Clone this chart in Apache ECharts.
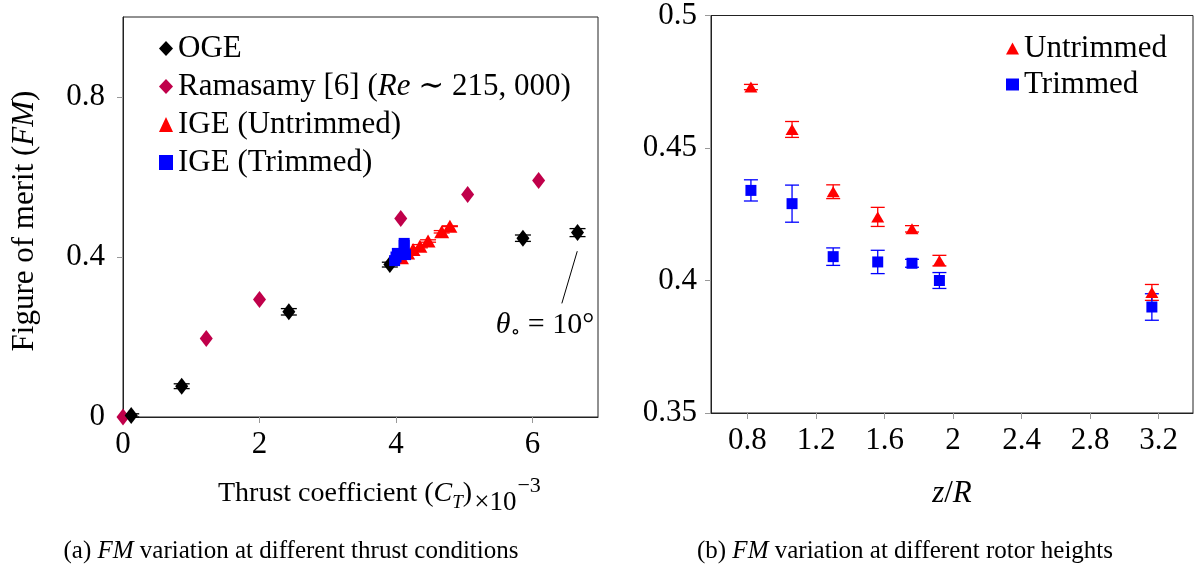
<!DOCTYPE html>
<html>
<head>
<meta charset="utf-8">
<script src="https://cdn.jsdelivr.net/npm/echarts@6/dist/echarts.min.js"></script>
<style>html,body{margin:0;padding:0;background:#fff}#c{width:1198px;height:574px}</style>
</head>
<body>
<div id="c"></div>
<script>
// ---- (a) FM vs thrust coefficient ----
const ogeCT = [0.12, 0.86, 2.43, 3.91, 5.86, 6.66];
const ogeFM = [0.004, 0.077, 0.263, 0.381, 0.447, 0.461];
const ogeErr = [0.004, 0.006, 0.008, 0.006, 0.008, 0.01];
const ramCT = [0.0, 1.22, 2.0, 4.07, 5.05, 6.09];
const ramFM = [0.0, 0.196, 0.294, 0.496, 0.556, 0.591];
const igeUCT = [4.08, 4.17, 4.25, 4.35, 4.47, 4.67, 4.79];
const igeUFM = [0.398, 0.41, 0.419, 0.427, 0.44, 0.463, 0.477];
const igeUErr = [0.003, 0.002, 0.001, 0.004, 0.003, 0.003, 0.001];
const igeTCT = [3.98, 4.00, 4.02, 4.10, 4.14, 4.12, 4.12];
const igeTFM = [0.391, 0.400, 0.409, 0.407, 0.406, 0.429, 0.434];
const ctTicks = [0, 2, 4, 6];
const fmTicksA = [0, 0.4, 0.8];
const annot = [[6.656, 0.4145], [6.43, 0.284]];

// ---- (b) FM vs rotor height ----
const zR = [0.82, 1.06, 1.30, 1.56, 1.76, 1.92, 3.16];
const fmU = [0.473, 0.457, 0.4335, 0.424, 0.4195, 0.4075, 0.3955];
const errU = [0.001, 0.003, 0.0026, 0.0036, 0.0012, 0.002, 0.003];
const fmT = [0.434, 0.429, 0.409, 0.407, 0.4065, 0.400, 0.390];
const errT = [0.004, 0.007, 0.0033, 0.0044, 0.0015, 0.003, 0.005];
const zTicks = [0.8, 1.2, 1.6, 2, 2.4, 2.8, 3.2];
const fmTicksB = [0.35, 0.4, 0.45, 0.5];

const SERIF = '"Liberation Serif", "DejaVu Serif", serif';
const zip = (a, b, c) => a.map((v, i) => c ? [v, b[i], c[i]] : [v, b[i]]);

function errBars(color, cap) {
  return function (params, api) {
    const x = api.value(0), y = api.value(1), e = api.value(2);
    const p1 = api.coord([x, y + e]);
    const p2 = api.coord([x, y - e]);
    const st = { stroke: color, lineWidth: 1.3 };
    return {
      type: 'group',
      children: [
        { type: 'line', shape: { x1: p1[0], y1: p1[1], x2: p2[0], y2: p2[1] }, style: st },
        { type: 'line', shape: { x1: p1[0] - cap, y1: p1[1], x2: p1[0] + cap, y2: p1[1] }, style: st },
        { type: 'line', shape: { x1: p2[0] - cap, y1: p2[1], x2: p2[0] + cap, y2: p2[1] }, style: st }
      ]
    };
  };
}

function valAxis(gi, min, max, ticks, margin) {
  return {
    type: 'value', gridIndex: gi, min: min, max: max,
    axisLine: { show: true, onZero: false, lineStyle: { color: '#222', width: 1 } },
    axisTick: { show: true, inside: false, length: 6, customValues: ticks, lineStyle: { color: '#999' } },
    axisLabel: { customValues: ticks, color: '#000', fontFamily: SERIF, fontSize: 31, margin: margin },
    splitLine: { show: false }
  };
}

const chart = echarts.init(document.getElementById('c'), null, { renderer: 'canvas' });
const F = (size, italic, extra) => Object.assign({ fontFamily: SERIF, fontSize: size, color: '#000', fontStyle: italic ? 'italic' : 'normal' }, extra || {});

chart.setOption({
  animation: false,
  backgroundColor: '#fff',
  grid: [
    { left: 123, top: 17, width: 475, height: 400, show: true, borderColor: '#222', borderWidth: 1 },
    { left: 711, top: 14, width: 482, height: 399, show: true, borderColor: '#222', borderWidth: 1 }
  ],
  xAxis: [
    valAxis(0, 0, 6.96, ctTicks, 12),
    valAxis(1, 0.587, 3.40, zTicks, 12)
  ],
  yAxis: [
    valAxis(0, 0, 1.0, fmTicksA, 18),
    valAxis(1, 0.35, 0.5, fmTicksB, 14)
  ],
  legend: [
    {
      orient: 'vertical', left: 154, top: 28, itemWidth: 14, itemHeight: 15, itemGap: 7,
      data: [
        { name: 'OGE', icon: 'diamond' },
        { name: 'Ramasamy [6]', icon: 'diamond' },
        { name: 'IGE (Untrimmed)', icon: 'triangle' },
        { name: 'IGE (Trimmed)', icon: 'rect' }
      ],
      formatter: function (name) {
        if (name === 'Ramasamy [6]') return '{n|Ramasamy [6] (}{i|Re}{n| ∼ 215, 000)}';
        return '{n|' + name + '}';
      },
      textStyle: { rich: { n: F(31, false, { lineHeight: 36 }), i: F(31, true, { lineHeight: 36 }) } }
    },
    {
      orient: 'vertical', left: 1001, top: 28, itemWidth: 13, itemHeight: 12, itemGap: 5,
      data: [
        { name: 'Untrimmed', icon: 'triangle' },
        { name: 'Trimmed', icon: 'rect' }
      ],
      formatter: function (name) { return '{n|' + name + '}'; },
      textStyle: { rich: { n: F(31, false, { lineHeight: 34 }) } }
    }
  ],
  series: [
    { type: 'custom', name: 'ogeErr', xAxisIndex: 0, yAxisIndex: 0, data: zip(ogeCT, ogeFM, ogeErr), renderItem: errBars('#000', 8), z: 3, silent: true },
    { type: 'custom', name: 'igeUErr', xAxisIndex: 0, yAxisIndex: 0, data: zip(igeUCT, igeUFM, igeUErr), renderItem: errBars('#ff0000', 8), z: 3, silent: true },
    {
      type: 'scatter', name: 'Ramasamy [6]', xAxisIndex: 0, yAxisIndex: 0, symbol: 'diamond', symbolSize: [13, 17],
      itemStyle: { color: '#c0004a', opacity: 1 }, data: zip(ramCT, ramFM), z: 4
    },
    {
      type: 'scatter', name: 'OGE', xAxisIndex: 0, yAxisIndex: 0, symbol: 'diamond', symbolSize: [13, 17],
      itemStyle: { color: '#000', opacity: 1 }, data: zip(ogeCT, ogeFM), z: 4,
      markLine: {
        silent: true, symbol: ['none', 'none'], label: { show: false },
        lineStyle: { color: '#000', width: 1, type: 'solid', opacity: 1 },
        data: [[{ coord: annot[0] }, { coord: annot[1] }]]
      }
    },
    {
      type: 'scatter', name: 'IGE (Untrimmed)', xAxisIndex: 0, yAxisIndex: 0, symbol: 'triangle', symbolSize: [15, 13],
      itemStyle: { color: '#ff0000', opacity: 1 }, data: zip(igeUCT, igeUFM), z: 5
    },
    {
      type: 'scatter', name: 'IGE (Trimmed)', xAxisIndex: 0, yAxisIndex: 0, symbol: 'rect', symbolSize: 11,
      itemStyle: { color: '#0000ff', opacity: 1 }, data: zip(igeTCT, igeTFM), z: 6
    },
    { type: 'custom', name: 'errU', xAxisIndex: 1, yAxisIndex: 1, data: zip(zR, fmU, errU), renderItem: errBars('#ff0000', 7), z: 3, silent: true },
    { type: 'custom', name: 'errT', xAxisIndex: 1, yAxisIndex: 1, data: zip(zR, fmT, errT), renderItem: errBars('#0000ff', 7), z: 3, silent: true },
    {
      type: 'scatter', name: 'Untrimmed', xAxisIndex: 1, yAxisIndex: 1, symbol: 'triangle', symbolSize: [13, 11],
      itemStyle: { color: '#ff0000', opacity: 1 }, data: zip(zR, fmU), z: 4
    },
    {
      type: 'scatter', name: 'Trimmed', xAxisIndex: 1, yAxisIndex: 1, symbol: 'rect', symbolSize: 11,
      itemStyle: { color: '#0000ff', opacity: 1 }, data: zip(zR, fmT), z: 4
    }
  ],
  graphic: [
    {
      type: 'text', x: 25, y: 221, rotation: Math.PI / 2,
      style: {
        text: '{n|Figure of merit (}{i|FM}{n|)}', align: 'center', verticalAlign: 'middle',
        rich: { n: F(31), i: F(31, true) }
      }
    },
    {
      type: 'text', x: 218, y: 494,
      style: {
        text: '{n|Thrust coefficient (}{i|C}{s|T}{n|)}{m|×10}{p|−3}', align: 'left', verticalAlign: 'middle',
        rich: {
          n: F(28, false, { lineHeight: 44, verticalAlign: 'middle' }),
          i: F(28, true, { lineHeight: 44, verticalAlign: 'middle' }),
          s: F(19, true, { lineHeight: 44, verticalAlign: 'bottom', padding: [0, 0, 4, 0] }),
          m: F(27, false, { lineHeight: 44, verticalAlign: 'bottom', padding: [0, 0, 0, 2] }),
          p: F(22, false, { lineHeight: 44, verticalAlign: 'top', padding: [3, 0, 0, 1] })
        }
      }
    },
    {
      type: 'text', x: 952, y: 494,
      style: { text: '{i|z}{n|/}{i|R}', align: 'center', verticalAlign: 'middle', rich: { n: F(31), i: F(31, true) } }
    },
    {
      type: 'text', x: 545, y: 325,
      style: {
        text: '{i|θ}{s|∘}{n| = 10°}', align: 'center', verticalAlign: 'middle',
        rich: {
          n: F(30, false, { lineHeight: 36, verticalAlign: 'middle' }),
          i: F(30, true, { lineHeight: 36, verticalAlign: 'middle' }),
          s: F(20, false, { lineHeight: 36, verticalAlign: 'bottom' })
        }
      }
    },
    {
      type: 'text', x: 291, y: 551,
      style: {
        text: '{n|(a) }{i|FM}{n| variation at different thrust conditions}', align: 'center', verticalAlign: 'middle',
        rich: { n: F(25), i: F(25, true) }
      }
    },
    {
      type: 'text', x: 905, y: 551,
      style: {
        text: '{n|(b) }{i|FM}{n| variation at different rotor heights}', align: 'center', verticalAlign: 'middle',
        rich: { n: F(25), i: F(25, true) }
      }
    }
  ]
});
</script>
</body>
</html>
